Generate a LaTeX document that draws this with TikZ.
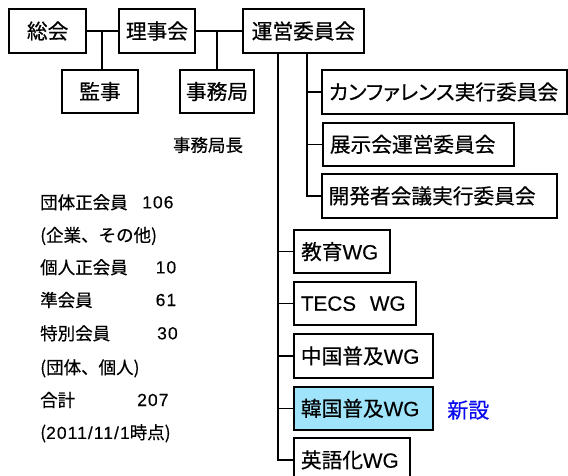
\documentclass[tikz,border=0pt]{standalone}
\usepackage{fontspec}
\setmainfont{Liberation Sans}
\newfontfamily\jp[FakeBold=0.5]{Noto Sans CJK JP}
\newfontfamily\jpp[RawFeature=+palt,FakeBold=0.5]{Noto Sans CJK JP}
\newfontfamily\lat[FakeBold=0.3]{Liberation Sans}
\newfontfamily\digits[LetterSpace=6,FakeBold=0.3]{Liberation Sans}
\definecolor{newfill}{RGB}{160,228,252}
\definecolor{newtext}{RGB}{10,10,240}
\begin{document}
\begin{tikzpicture}[x=1pt,y=-1pt,
  box/.style={draw, line width=1.8pt, inner sep=0pt, font=\jp\fontsize{20.7}{24}\selectfont},
  cbox/.style={box, minimum height=43.4pt},
  lbox/.style={box, anchor=north west, minimum height=43.4pt, inner xsep=7pt, align=left},
  conn/.style={line width=1.6pt},
  info/.style={inner sep=0pt, anchor=west, font=\jp\fontsize{17.5}{20}\selectfont},
  num/.style={inner sep=0pt, anchor=west, font=\digits\fontsize{17.5}{20}\selectfont},
]
\useasboundingbox (0,0) rectangle (568,475);
\clip (0,0) rectangle (568,475);

% top row
\node[cbox, minimum width=76.7pt] (soukai) at (47.65,31) {総会};
\node[cbox, minimum width=76pt] (rijikai) at (157,31) {理事会};
\node[cbox, minimum width=121pt] (unei) at (303.5,31) {運営委員会};
\node[cbox, minimum width=76pt, minimum height=43pt] (kanji) at (100,91.5) {監事};
\node[cbox, minimum width=74pt, minimum height=43pt] (jimukyoku) at (217,91.5) {事務局};
\node[inner sep=0pt, font=\jp\fontsize{17.5}{20}\selectfont] (chou) at (208,145) {事務局長};

% committees
\node[lbox, text width=231pt] (conf) at (321,69.3) {\jpp カンファレンス実行委員会};
\node[lbox, text width=177pt] (tenji) at (322,121.7) {展示会運営委員会};
\node[lbox, text width=221pt] (kaihatsu) at (320.7,173.3) {開発者会議実行委員会};

% working groups
\node[lbox, text width=81.7pt] (kyouiku) at (293.3,229) {教育{\lat WG}};
\node[lbox, text width=108pt] (tecs) at (293,281) {{\lat TECS\ \ WG}};
\node[lbox, text width=124.7pt] (china) at (293,333.3) {中国普及{\lat WG}};
\node[lbox, text width=124.7pt, fill=newfill] (korea) at (293,385.7) {韓国普及{\lat WG}};
\node[lbox, text width=102.3pt] (english) at (293,437.3) {英語化{\lat WG}};
\node[inner sep=0pt, text=newtext, font=\jp\fontsize{21}{24}\selectfont] (shinsetsu) at (468.3,410) {新設};

% connectors
\draw[conn] (soukai) -- (rijikai);
\draw[conn] (rijikai) -- (unei);
\coordinate (j1) at (101.7,31);
\draw[conn] (j1) -- (j1 |- kanji.north);
\draw[conn] (jimukyoku.north) -- (jimukyoku.north |- rijikai.east);
\path (unei.south) ++(-25.5,0) coordinate (la);
\path (unei.south) ++(3.5,0) coordinate (lb);
\draw[conn] (la) |- (english.west);
\foreach \n in {kyouiku,tecs,china,korea} \draw[conn] (la |- \n.west) -- (\n.west);
\draw[conn] (lb) |- (kaihatsu.west);
\foreach \n in {conf,tenji} \draw[conn] (lb |- \n.west) -- (\n.west);

% membership figures
\node[info] (l1) at (40,202.3) {団体正会員};
\node[num] (n1) at (142,202.3) {106};
\node[info] (l2) at (40,236) {(企業、その他)};
\node[info] (l3) at (40,267.3) {個人正会員};
\node[num] (n3) at (155.5,267.3) {10};
\node[info] (l4) at (40,300) {準会員};
\node[num] (n4) at (155.5,300) {61};
\node[info] (l5) at (40,333.3) {特別会員};
\node[num] (n5) at (157,333.3) {30};
\node[info] (l6) at (40,368.3) {(団体、個人)};
\node[info] (l7) at (40,400) {合計};
\node[num] (n7) at (137,400) {207};
\node[info] (l8) at (40,433.3) {({\digits\fontsize{17.5}{20}\selectfont 2011/11/1}時点)};
\end{tikzpicture}
\end{document}
